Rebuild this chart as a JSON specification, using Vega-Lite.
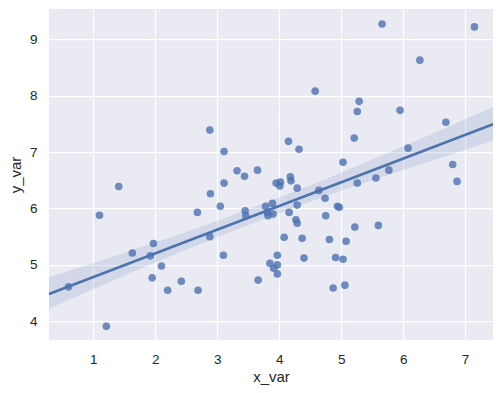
{
  "$schema": "https://vega.github.io/schema/vega-lite/v6.json",
  "width": 444,
  "height": 331,
  "autosize": "none",
  "padding": {"left": 49, "top": 9, "right": 9, "bottom": 53},
  "background": "white",
  "config": {
    "view": {"fill": "#EAEAF2", "stroke": null},
    "font": "Liberation Sans",
    "axis": {
      "domain": false,
      "ticks": false,
      "grid": true,
      "gridColor": "white",
      "gridWidth": 1.25,
      "labelFont": "Liberation Sans",
      "labelFontSize": 13.5,
      "labelColor": "#262626",
      "titleFont": "Liberation Sans",
      "titleFontSize": 15,
      "titleFontWeight": "normal",
      "titleColor": "#262626"
    }
  },
  "datasets": {
    "points": [
      {"x_var": 0.60, "y_var": 4.61}, {"x_var": 1.10, "y_var": 5.88}, {"x_var": 1.21, "y_var": 3.91},
      {"x_var": 1.41, "y_var": 6.39}, {"x_var": 1.63, "y_var": 5.21}, {"x_var": 1.97, "y_var": 5.38},
      {"x_var": 1.92, "y_var": 5.16}, {"x_var": 2.10, "y_var": 4.98}, {"x_var": 1.95, "y_var": 4.77},
      {"x_var": 2.20, "y_var": 4.55}, {"x_var": 2.42, "y_var": 4.71}, {"x_var": 2.69, "y_var": 4.55},
      {"x_var": 2.68, "y_var": 5.93}, {"x_var": 2.89, "y_var": 6.26}, {"x_var": 2.88, "y_var": 5.50},
      {"x_var": 2.88, "y_var": 7.39}, {"x_var": 3.05, "y_var": 6.04}, {"x_var": 3.10, "y_var": 5.17},
      {"x_var": 3.11, "y_var": 6.45}, {"x_var": 3.11, "y_var": 7.01}, {"x_var": 3.32, "y_var": 6.67},
      {"x_var": 3.44, "y_var": 6.57}, {"x_var": 3.65, "y_var": 6.68}, {"x_var": 3.45, "y_var": 5.96},
      {"x_var": 3.46, "y_var": 5.87}, {"x_var": 3.66, "y_var": 4.73}, {"x_var": 3.78, "y_var": 6.04},
      {"x_var": 3.89, "y_var": 6.09}, {"x_var": 3.81, "y_var": 5.93}, {"x_var": 3.90, "y_var": 5.90},
      {"x_var": 3.82, "y_var": 5.87}, {"x_var": 3.95, "y_var": 6.45}, {"x_var": 4.02, "y_var": 6.47},
      {"x_var": 4.01, "y_var": 6.40}, {"x_var": 4.18, "y_var": 6.56}, {"x_var": 4.19, "y_var": 6.49},
      {"x_var": 4.29, "y_var": 6.36}, {"x_var": 4.64, "y_var": 6.32}, {"x_var": 4.74, "y_var": 6.18},
      {"x_var": 4.29, "y_var": 6.06}, {"x_var": 4.16, "y_var": 5.93}, {"x_var": 4.27, "y_var": 5.80},
      {"x_var": 4.29, "y_var": 5.74}, {"x_var": 4.75, "y_var": 5.87}, {"x_var": 4.94, "y_var": 6.04},
      {"x_var": 4.97, "y_var": 6.02}, {"x_var": 4.08, "y_var": 5.49}, {"x_var": 4.37, "y_var": 5.47},
      {"x_var": 4.81, "y_var": 5.45}, {"x_var": 5.08, "y_var": 5.42}, {"x_var": 3.97, "y_var": 5.17},
      {"x_var": 3.85, "y_var": 5.03}, {"x_var": 3.97, "y_var": 5.00}, {"x_var": 3.91, "y_var": 4.94},
      {"x_var": 3.97, "y_var": 4.84}, {"x_var": 4.40, "y_var": 5.12}, {"x_var": 4.91, "y_var": 5.13},
      {"x_var": 5.03, "y_var": 5.10}, {"x_var": 4.87, "y_var": 4.59}, {"x_var": 5.06, "y_var": 4.64},
      {"x_var": 4.15, "y_var": 7.19}, {"x_var": 4.32, "y_var": 7.05}, {"x_var": 5.21, "y_var": 7.25},
      {"x_var": 5.03, "y_var": 6.82}, {"x_var": 5.26, "y_var": 6.45}, {"x_var": 5.56, "y_var": 6.54},
      {"x_var": 5.77, "y_var": 6.68}, {"x_var": 5.22, "y_var": 5.67}, {"x_var": 5.60, "y_var": 5.70},
      {"x_var": 4.58, "y_var": 8.08}, {"x_var": 5.29, "y_var": 7.90}, {"x_var": 5.26, "y_var": 7.72},
      {"x_var": 5.95, "y_var": 7.74}, {"x_var": 6.69, "y_var": 7.53}, {"x_var": 6.08, "y_var": 7.07},
      {"x_var": 6.80, "y_var": 6.78}, {"x_var": 6.87, "y_var": 6.48}, {"x_var": 6.27, "y_var": 8.63},
      {"x_var": 5.66, "y_var": 9.27}, {"x_var": 7.15, "y_var": 9.22}
    ],
    "band": [
      {"x_var": 0.285, "lo": 4.22, "hi": 4.78},
      {"x_var": 1.0, "lo": 4.57, "hi": 5.03},
      {"x_var": 2.0, "lo": 5.04, "hi": 5.40},
      {"x_var": 3.0, "lo": 5.49, "hi": 5.78},
      {"x_var": 3.7, "lo": 5.79, "hi": 6.07},
      {"x_var": 4.5, "lo": 6.12, "hi": 6.41},
      {"x_var": 5.5, "lo": 6.50, "hi": 6.87},
      {"x_var": 6.5, "lo": 6.86, "hi": 7.34},
      {"x_var": 7.45, "lo": 7.20, "hi": 7.80}
    ]
  },
  "encoding": {
    "x": {
      "field": "x_var", "type": "quantitative",
      "scale": {"domain": [0.285, 7.45], "nice": false, "zero": false},
      "axis": {"values": [1, 2, 3, 4, 5, 6, 7], "format": "d", "title": "x_var", "labelPadding": 12, "titlePadding": 4}
    }
  },
  "layer": [
    {
      "data": {"name": "band"},
      "mark": {"type": "area", "color": "#4C72B0", "opacity": 0.15, "interpolate": "monotone"},
      "encoding": {
        "y": {"field": "lo", "type": "quantitative",
              "scale": {"domain": [3.668, 9.537], "nice": false, "zero": false},
              "axis": {"values": [4, 5, 6, 7, 8, 9], "format": "d", "title": "y_var", "labelPadding": 12, "titlePadding": 6}},
        "y2": {"field": "hi"}
      }
    },
    {
      "data": {"name": "points"},
      "mark": {"type": "point", "filled": true, "color": "#4C72B0", "opacity": 0.8, "size": 58, "shape": "circle"},
      "encoding": {
        "y": {"field": "y_var", "type": "quantitative"}
      }
    },
    {
      "data": {"name": "points"},
      "transform": [{"regression": "y_var", "on": "x_var", "extent": [0.285, 7.45]}],
      "mark": {"type": "line", "color": "#4C72B0", "strokeWidth": 2.6},
      "encoding": {
        "y": {"field": "y_var", "type": "quantitative"}
      }
    }
  ]
}
